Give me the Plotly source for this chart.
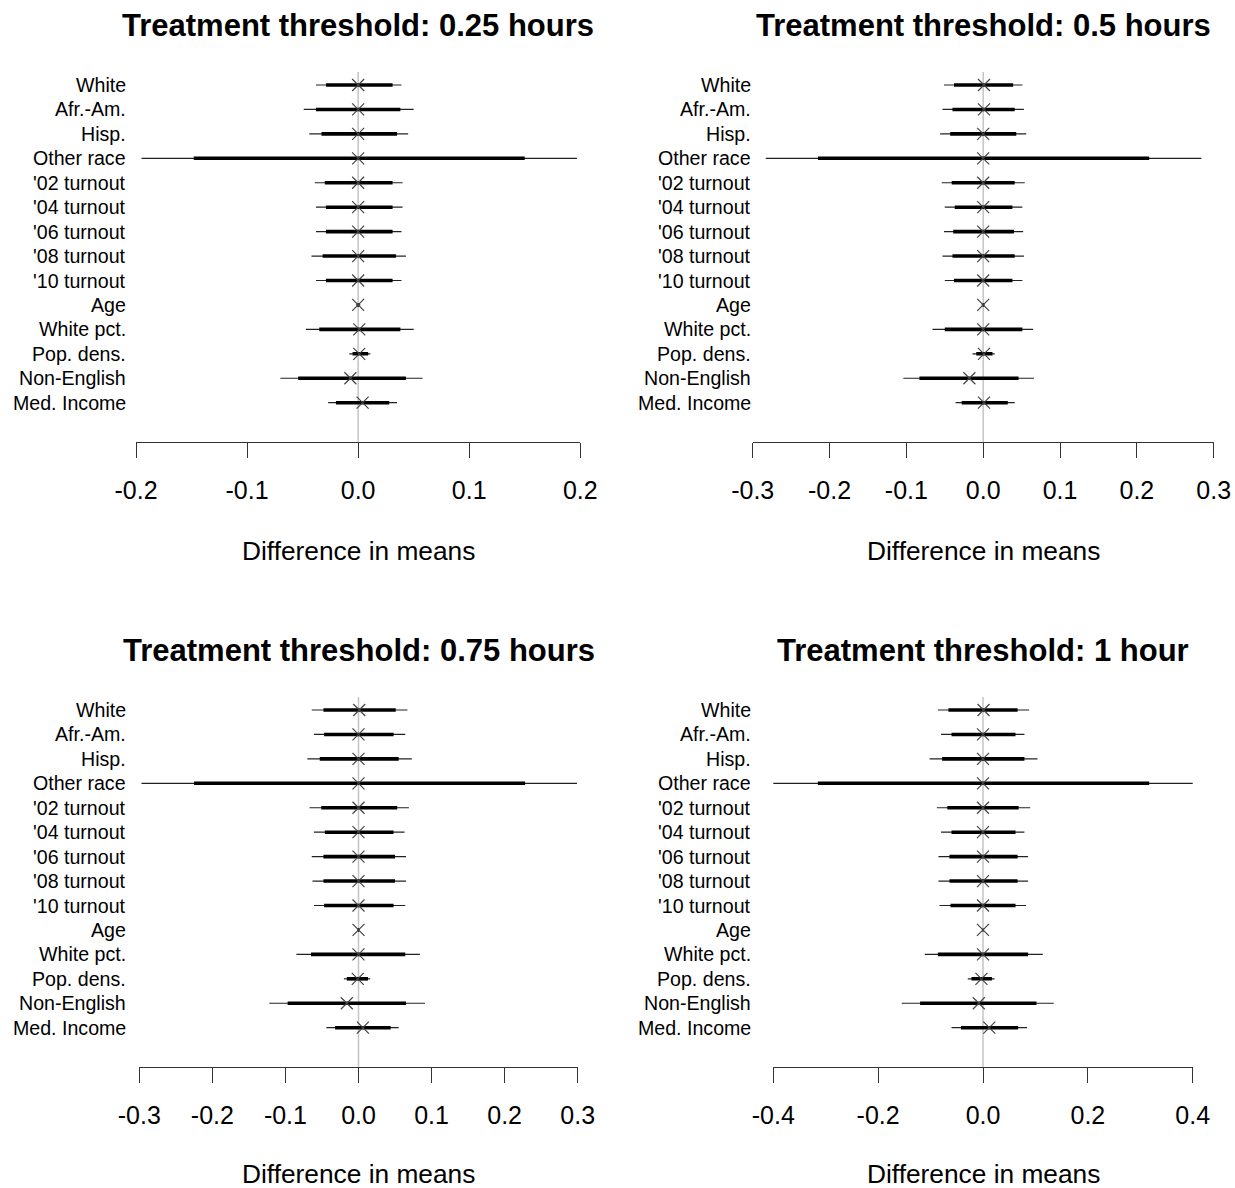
import plotly.graph_objects as go

W, H = 1235, 1188

covariates = ["White", "Afr.-Am.", "Hisp.", "Other race", "'02 turnout", "'04 turnout",
              "'06 turnout", "'08 turnout", "'10 turnout", "Age", "White pct.",
              "Pop. dens.", "Non-English", "Med. Income"]

titles = ["Treatment threshold: 0.25 hours", "Treatment threshold: 0.5 hours",
          "Treatment threshold: 0.75 hours", "Treatment threshold: 1 hour"]
x_title = "Difference in means"

# ---- 0.25 hours ----
est_025 = [0.000, 0.000, 0.000, 0.000, 0.000, 0.000, 0.000, 0.000, 0.000, 0.000, 0.001, 0.001, -0.007, 0.004]
lo95_025 = [-0.038, -0.049, -0.044, -0.195, -0.039, -0.038, -0.038, -0.042, -0.038, -0.002, -0.047, -0.008, -0.070, -0.027]
hi95_025 = [0.039, 0.050, 0.045, 0.197, 0.040, 0.040, 0.039, 0.043, 0.039, 0.002, 0.050, 0.011, 0.058, 0.035]
lo90_025 = [-0.029, -0.038, -0.033, -0.148, -0.030, -0.029, -0.029, -0.032, -0.029, -0.001, -0.035, -0.005, -0.054, -0.020]
hi90_025 = [0.031, 0.038, 0.035, 0.150, 0.031, 0.031, 0.031, 0.034, 0.031, 0.001, 0.038, 0.009, 0.043, 0.028]
ticks_025 = [-0.2, -0.1, 0.0, 0.1, 0.2]
ticktext_025 = ["-0.2", "-0.1", "0.0", "0.1", "0.2"]

# ---- 0.5 hours ----
est_05 = [0.001, 0.001, 0.000, 0.000, 0.000, 0.000, 0.000, 0.000, 0.000, 0.000, 0.000, 0.001, -0.018, 0.001]
lo95_05 = [-0.051, -0.053, -0.056, -0.283, -0.054, -0.050, -0.051, -0.053, -0.050, -0.002, -0.066, -0.014, -0.104, -0.036]
hi95_05 = [0.051, 0.053, 0.056, 0.284, 0.054, 0.051, 0.052, 0.053, 0.051, 0.002, 0.065, 0.015, 0.066, 0.041]
lo90_05 = [-0.038, -0.040, -0.043, -0.215, -0.041, -0.037, -0.039, -0.040, -0.038, -0.001, -0.050, -0.009, -0.083, -0.028]
hi90_05 = [0.039, 0.041, 0.043, 0.216, 0.041, 0.038, 0.040, 0.041, 0.038, 0.001, 0.051, 0.012, 0.046, 0.032]
ticks_05 = [-0.3, -0.2, -0.1, 0.0, 0.1, 0.2, 0.3]
ticktext_05 = ["-0.3", "-0.2", "-0.1", "0.0", "0.1", "0.2", "0.3"]

# ---- 0.75 hours ----
est_075 = [0.001, 0.000, 0.000, 0.000, 0.000, 0.000, 0.000, 0.000, 0.000, 0.000, 0.000, -0.001, -0.016, 0.006]
lo95_075 = [-0.064, -0.061, -0.070, -0.297, -0.067, -0.061, -0.064, -0.063, -0.061, -0.002, -0.085, -0.020, -0.122, -0.044]
hi95_075 = [0.067, 0.064, 0.073, 0.299, 0.069, 0.063, 0.065, 0.065, 0.064, 0.002, 0.084, 0.016, 0.091, 0.055]
lo90_075 = [-0.048, -0.047, -0.053, -0.225, -0.051, -0.046, -0.048, -0.048, -0.047, -0.001, -0.065, -0.016, -0.097, -0.032]
hi90_075 = [0.051, 0.048, 0.055, 0.228, 0.053, 0.048, 0.050, 0.050, 0.048, 0.001, 0.064, 0.013, 0.065, 0.044]
ticks_075 = [-0.3, -0.2, -0.1, 0.0, 0.1, 0.2, 0.3]
ticktext_075 = ["-0.3", "-0.2", "-0.1", "0.0", "0.1", "0.2", "0.3"]

# ---- 1 hour ----
est_1 = [0.001, 0.000, 0.000, 0.000, 0.000, 0.000, 0.000, 0.000, 0.000, 0.000, 0.000, -0.003, -0.008, 0.012]
lo95_1 = [-0.086, -0.080, -0.102, -0.414, -0.088, -0.080, -0.085, -0.085, -0.083, -0.002, -0.111, -0.029, -0.155, -0.060]
hi95_1 = [0.088, 0.079, 0.104, 0.416, 0.090, 0.079, 0.086, 0.086, 0.082, 0.002, 0.114, 0.022, 0.135, 0.084]
lo90_1 = [-0.066, -0.060, -0.078, -0.315, -0.068, -0.060, -0.064, -0.064, -0.062, -0.001, -0.086, -0.022, -0.120, -0.042]
hi90_1 = [0.066, 0.062, 0.079, 0.317, 0.068, 0.062, 0.066, 0.066, 0.062, 0.001, 0.086, 0.017, 0.102, 0.067]
ticks_1 = [-0.4, -0.2, 0.0, 0.2, 0.4]
ticktext_1 = ["-0.4", "-0.2", "0.0", "0.2", "0.4"]

panels = [
    dict(title=titles[0], est=est_025, lo95=lo95_025, hi95=hi95_025, lo90=lo90_025, hi90=hi90_025,
         ticks=ticks_025, ticktext=ticktext_025),
    dict(title=titles[1], est=est_05, lo95=lo95_05, hi95=hi95_05, lo90=lo90_05, hi90=hi90_05,
         ticks=ticks_05, ticktext=ticktext_05),
    dict(title=titles[2], est=est_075, lo95=lo95_075, hi95=hi95_075, lo90=lo90_075, hi90=hi90_075,
         ticks=ticks_075, ticktext=ticktext_075),
    dict(title=titles[3], est=est_1, lo95=lo95_1, hi95=hi95_1, lo90=lo90_1, hi90=hi90_1,
         ticks=ticks_1, ticktext=ticktext_1),
]

# pixel geometry of each panel: x-left, x-right, y-top, y-bottom, label right edge, title y, xtitle y
geom = [
    (136.0, 580.3, 72.0, 441.7, 128, 25, 551),
    (752.7, 1213.7, 72.0, 441.7, 753, 25, 551),
    (139.3, 577.7, 697.0, 1066.7, 128, 650, 1174),
    (773.3, 1192.7, 697.0, 1066.7, 753, 650, 1174),
]
yrange = [14.596, -0.532]
FONT = "Liberation Sans, Arial, sans-serif"

fig = go.Figure()
annotations = []
shapes = []
layout = {}

for k, (p, g) in enumerate(zip(panels, geom)):
    x0, x1, yt, yb, lab_x, t_y, xt_y = g
    ax = "" if k == 0 else str(k + 1)
    xname, yname = "x" + ax, "y" + ax
    rows = list(range(len(covariates)))

    # thin (wide interval) lines
    xs, ys = [], []
    for i in rows:
        xs += [p["lo95"][i], p["hi95"][i], None]
        ys += [i, i, None]
    fig.add_trace(go.Scatter(x=xs, y=ys, mode="lines", line=dict(color="#222", width=1.2),
                             xaxis=xname, yaxis=yname, showlegend=False, hoverinfo="skip"))
    # thick (narrow interval) lines
    xs, ys = [], []
    for i in rows:
        xs += [p["lo90"][i], p["hi90"][i], None]
        ys += [i, i, None]
    fig.add_trace(go.Scatter(x=xs, y=ys, mode="lines", line=dict(color="black", width=3.6),
                             xaxis=xname, yaxis=yname, showlegend=False, hoverinfo="skip"))
    # point estimates
    fig.add_trace(go.Scatter(x=p["est"], y=rows, mode="markers",
                             marker=dict(symbol="x-thin-open", size=12, color="#444",
                                         line=dict(color="#444", width=1.2)),
                             xaxis=xname, yaxis=yname, showlegend=False,
                             text=covariates, hovertemplate="%{text}: %{x}<extra></extra>"))

    rng = [p["ticks"][0], p["ticks"][-1]]
    layout["xaxis" + ax] = dict(
        domain=[x0 / W, x1 / W], range=rng, anchor=yname,
        tickvals=p["ticks"], ticktext=p["ticktext"],
        ticks="outside", ticklen=15, tickwidth=1, tickcolor="#333",
        showline=True, linecolor="#333", linewidth=1,
        showgrid=False, zeroline=False, automargin=False,
        tickfont=dict(family=FONT, size=25, color="black"),
        ticklabelstandoff=11,
    )
    layout["yaxis" + ax] = dict(
        domain=[(H - yb) / H, (H - yt) / H], range=yrange, anchor=xname,
        visible=False, showgrid=False, zeroline=False, automargin=False,
    )

    # zero reference line
    shapes.append(dict(type="line", xref=xname, yref=yname + " domain", x0=0, x1=0, y0=0, y1=1,
                       line=dict(color="#c4c4c4", width=1.5), layer="below"))

    # covariate labels
    for i, lab in enumerate(covariates):
        annotations.append(dict(text=lab, x=lab_x / W, xref="paper", y=i, yref=yname,
                                xanchor="right", yanchor="middle", showarrow=False,
                                font=dict(family=FONT, size=19.6, color="black")))
    zero_px = (x0 + x1) / 2
    annotations.append(dict(text="<b>" + p["title"] + "</b>", x=zero_px / W, xref="paper",
                            y=(H - t_y) / H, yref="paper", xanchor="center", yanchor="middle",
                            showarrow=False, font=dict(family=FONT, size=31, color="black")))
    annotations.append(dict(text=x_title, x=zero_px / W, xref="paper",
                            y=(H - xt_y) / H, yref="paper", xanchor="center", yanchor="middle",
                            showarrow=False, font=dict(family=FONT, size=26.3, color="black")))

fig.update_layout(
    width=W, height=H, autosize=False,
    margin=dict(l=0, r=0, t=0, b=0, autoexpand=False),
    paper_bgcolor="white", plot_bgcolor="white",
    annotations=annotations, shapes=shapes,
    **layout,
)

fig.write_html("out.html")
